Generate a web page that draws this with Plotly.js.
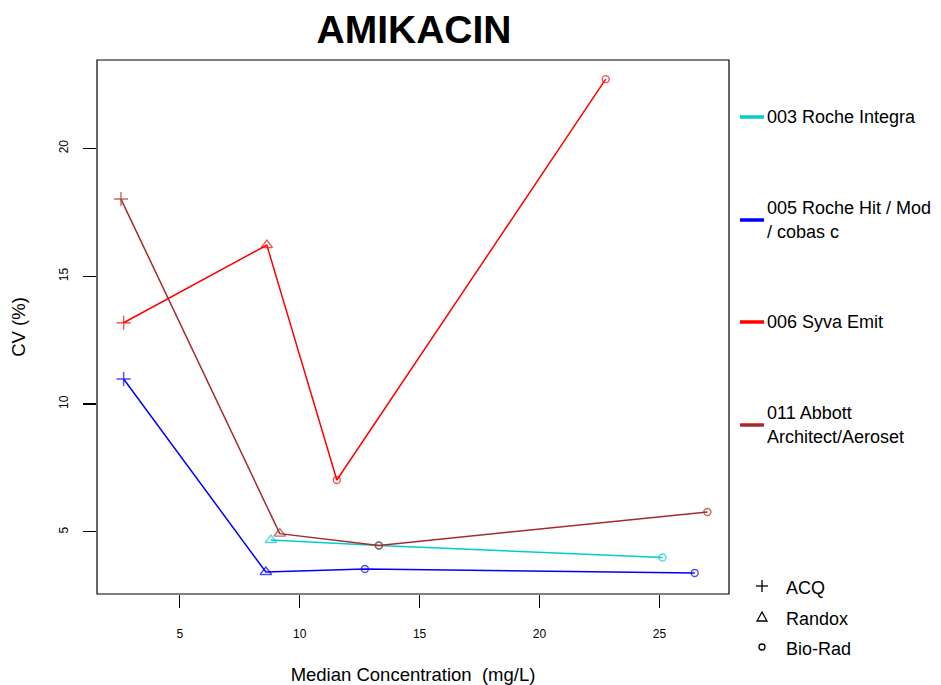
<!DOCTYPE html>
<html>
<head>
<meta charset="utf-8">
<script src="https://cdn.plot.ly/plotly-3.0.1.min.js"></script>
<style>html,body{margin:0;padding:0;background:#fff;}#chart{width:941px;height:685px;}</style>
</head>
<body>
<div id="chart"></div>
<script>
// ---- data ----
const seriesNames = ["003 Roche Integra", "005 Roche Hit / Mod / cobas c", "006 Syva Emit", "011 Abbott Architect/Aeroset"];
const legendLines = [["003 Roche Integra"], ["005 Roche Hit / Mod", "/ cobas c"], ["006 Syva Emit"], ["011 Abbott", "Architect/Aeroset"]];
const seriesColors = ["#00CDCD", "#0000FF", "#FF0000", "#A52A2A"];

const cyanX = [8.80, 13.30, 25.13];
const cyanY = [4.68, 4.47, 4.00];
const cyanS = ["Randox", "Bio-Rad", "Bio-Rad"];

const blueX = [2.66, 8.59, 12.72, 26.47];
const blueY = [10.98, 3.43, 3.55, 3.39];
const blueS = ["ACQ", "Randox", "Bio-Rad", "Bio-Rad"];

const redX = [2.66, 8.63, 11.55, 22.76];
const redY = [13.18, 16.22, 7.03, 22.71];
const redS = ["ACQ", "Randox", "Bio-Rad", "Bio-Rad"];

const brownX = [2.55, 9.17, 13.30, 27.00];
const brownY = [18.02, 4.93, 4.47, 5.78];
const brownS = ["ACQ", "Randox", "Bio-Rad", "Bio-Rad"];

const sampleTypes = ["ACQ", "Randox", "Bio-Rad"];
const xTicks = [5, 10, 15, 20, 25];
const yTicks = [5, 10, 15, 20];

// ---- styling ----
const symbolOf = {"ACQ": "cross-thin-open", "Randox": "triangle-up-open", "Bio-Rad": "circle-open"};
const sizeOf = {"ACQ": 10, "Randox": 10, "Bio-Rad": 7};

const allX = [cyanX, blueX, redX, brownX];
const allY = [cyanY, blueY, redY, brownY];
const allS = [cyanS, blueS, redS, brownS];

const traces = allX.map((xs, i) => ({
  type: "scatter", mode: "lines+markers",
  x: xs, y: allY[i], name: seriesNames[i],
  line: {color: seriesColors[i], width: 1.5},
  marker: {
    symbol: allS[i].map(s => symbolOf[s]),
    size: allS[i].map(s => sizeOf[s]),
    color: seriesColors[i],
    line: {color: seriesColors[i], width: 1.4}
  },
  showlegend: false, hoverinfo: "x+y+name"
}));

// plot area in pixels
const W = 941, H = 685, L = 97, R = 729, T = 60, B = 594;
const px2x = p => (p - L) / (R - L);
const py2y = p => (B - p) / (B - T);

const font = "Liberation Sans, Arial, sans-serif";
const annotations = [];
const shapes = [];

// series legend (lines only)
const legendCenters = [117, 220, 322, 425];
legendLines.forEach((lines, i) => {
  const cy = legendCenters[i];
  shapes.push({type: "line", xref: "paper", yref: "paper",
    x0: px2x(740), x1: px2x(764), y0: py2y(cy), y1: py2y(cy),
    line: {color: seriesColors[i], width: 3.5}});
  const n = lines.length;
  lines.forEach((t, k) => {
    const ty = cy + (k - (n - 1) / 2) * 24;
    annotations.push({xref: "paper", yref: "paper", x: px2x(765), y: py2y(ty),
      xanchor: "left", yanchor: "middle", showarrow: false, text: t,
      font: {family: font, size: 18, color: "#000"}});
  });
});

// sample-type legend
const symCenters = [586, 617, 647];
sampleTypes.forEach((s, i) => {
  const cy = symCenters[i], cx = 762;
  if (s === "ACQ") {
    shapes.push({type: "line", xref: "paper", yref: "paper", x0: px2x(cx - 6), x1: px2x(cx + 6), y0: py2y(cy), y1: py2y(cy), line: {color: "#000", width: 1.3}});
    shapes.push({type: "line", xref: "paper", yref: "paper", x0: px2x(cx), x1: px2x(cx), y0: py2y(cy - 6), y1: py2y(cy + 6), line: {color: "#000", width: 1.3}});
  } else if (s === "Randox") {
    const p = [[cx - 5, cy + 4], [cx + 5, cy + 4], [cx, cy - 5]].map(q => px2x(q[0]) + "," + py2y(q[1]));
    shapes.push({type: "path", xref: "paper", yref: "paper", path: "M" + p[0] + " L" + p[1] + " L" + p[2] + " Z", line: {color: "#000", width: 1.3}});
  } else {
    shapes.push({type: "circle", xref: "paper", yref: "paper", x0: px2x(cx - 3), x1: px2x(cx + 3), y0: py2y(cy - 3), y1: py2y(cy + 3), line: {color: "#000", width: 1.3}});
  }
  annotations.push({xref: "paper", yref: "paper", x: px2x(784), y: py2y(cy + 2),
    xanchor: "left", yanchor: "middle", showarrow: false, text: s,
    font: {family: font, size: 18, color: "#000"}});
});

// plot border box
shapes.push({type: "rect", xref: "paper", yref: "paper", x0: 0, x1: 1, y0: 0, y1: 1, line: {color: "#000", width: 1.2}, layer: "above"});

const layout = {
  width: W, height: H,
  margin: {l: L, r: W - R, t: T, b: H - B, pad: 0},
  paper_bgcolor: "#fff", plot_bgcolor: "#fff",
  showlegend: false,
  title: {text: "<b>AMIKACIN</b>", font: {family: font, size: 39, color: "#000"},
    x: 414 / W, xanchor: "center", y: 1 - 29 / H, yanchor: "middle"},
  xaxis: {
    range: [1.55, 27.9], tickvals: xTicks, ticktext: xTicks.map(String),
    showgrid: false, zeroline: false, showline: false,
    ticks: "outside", ticklen: 13, tickwidth: 1.2, tickcolor: "#000",
    ticklabelstandoff: 16,
    tickfont: {family: font, size: 12, color: "#000"},
    title: {text: "Median Concentration  (mg/L)", font: {family: font, size: 18.5, color: "#000"}, standoff: 29}
  },
  yaxis: {
    range: [2.57, 23.46], tickvals: yTicks, ticktext: yTicks.map(String),
    showgrid: false, zeroline: false, showline: false,
    ticks: "outside", ticklen: 13, tickwidth: 1.2, tickcolor: "#000",
    tickangle: -90, ticklabelstandoff: 10,
    tickfont: {family: font, size: 12, color: "#000"},
    title: {text: "CV (%)", font: {family: font, size: 18.5, color: "#000"}, standoff: 26}
  },
  shapes: shapes,
  annotations: annotations
};

Plotly.newPlot("chart", traces, layout, {displayModeBar: false, staticPlot: true});
</script>
</body>
</html>
